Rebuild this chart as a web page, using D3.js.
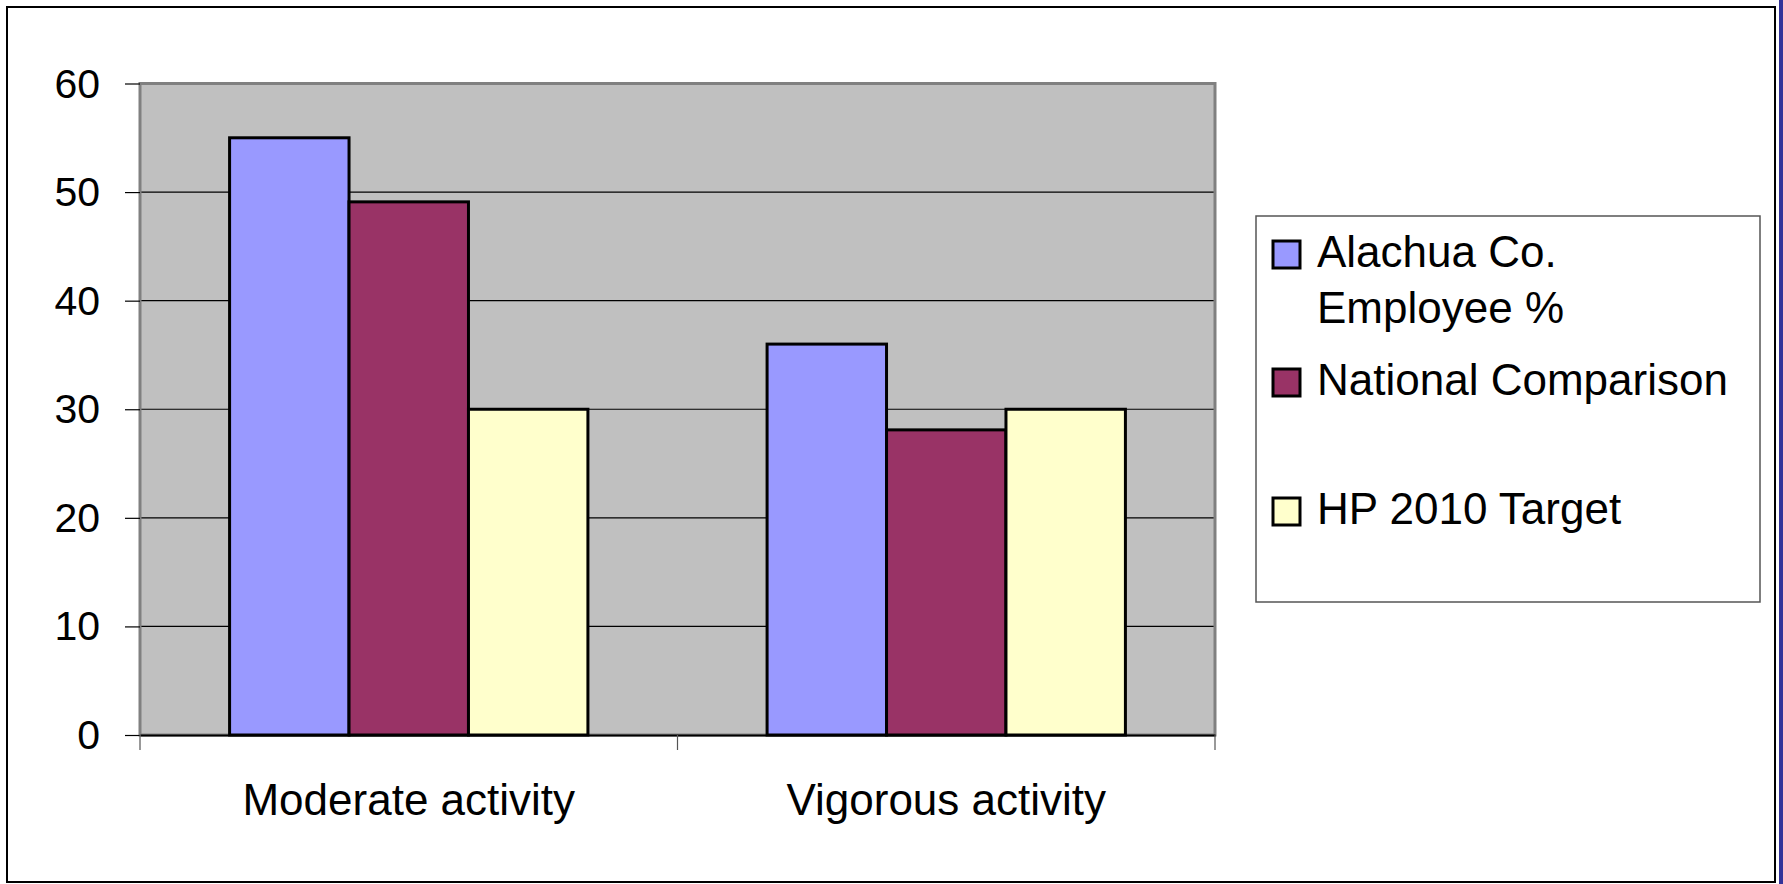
<!DOCTYPE html>
<html>
<head>
<meta charset="utf-8">
<script src="https://cdn.jsdelivr.net/npm/d3@7"></script>
<style>
  body { margin: 0; background: #fff; }
  text { font-family: "Liberation Sans", Arial, sans-serif; fill: #000; }
</style>
</head>
<body>
<script>
// data
var categories = ["Moderate activity", "Vigorous activity"];
var series = ["Alachua Co. Employee %", "National Comparison", "HP 2010 Target"];
var alachua = [55, 36];
var national = [49.1, 28.1];
var target = [30, 30];
var yTicks = [0, 10, 20, 30, 40, 50, 60];
var legendLines = [["Alachua Co.", "Employee %"], ["National Comparison"], ["HP 2010 Target"]];

var colors = ["#9999FF", "#993366", "#FFFFCC"];
var values = [alachua, national, target];

var W = 1783, H = 884;
var plot = { left: 140, right: 1215, top: 83.5, bottom: 735 };

var svg = d3.select("body").append("svg")
    .attr("width", W)
    .attr("height", H);

// outer chart border
svg.append("rect")
    .attr("x", 7).attr("y", 7)
    .attr("width", 1768).attr("height", 875)
    .attr("fill", "#fff")
    .attr("stroke", "#000")
    .attr("stroke-width", 2);
svg.append("rect")
    .attr("x", 1779).attr("y", 0)
    .attr("width", 4).attr("height", H)
    .attr("fill", "#333399");

var y = d3.scaleLinear()
    .domain([0, 60])
    .range([plot.bottom, plot.top]);

var x0 = d3.scaleBand()
    .domain(categories)
    .range([plot.left, plot.right])
    .paddingInner(1 / 3)
    .paddingOuter(1 / 6);

var x1 = d3.scaleBand()
    .domain(series)
    .range([0, x0.bandwidth()]);

// plot area background
svg.append("rect")
    .attr("x", plot.left).attr("y", plot.top)
    .attr("width", plot.right - plot.left)
    .attr("height", plot.bottom - plot.top)
    .attr("fill", "#C0C0C0");

// gridlines
svg.append("g")
    .selectAll("line")
    .data(yTicks.filter(function (d) { return d > 0 && d < 60; }))
    .enter().append("line")
    .attr("x1", plot.left).attr("x2", plot.right)
    .attr("y1", function (d) { return y(d); })
    .attr("y2", function (d) { return y(d); })
    .attr("stroke", "#000")
    .attr("stroke-width", 1.2);

// plot border
svg.append("rect")
    .attr("x", plot.left).attr("y", plot.top)
    .attr("width", plot.right - plot.left)
    .attr("height", plot.bottom - plot.top)
    .attr("fill", "none")
    .attr("stroke", "#808080")
    .attr("stroke-width", 3);

// bars
var groups = svg.append("g").selectAll("g")
    .data(categories)
    .enter().append("g")
    .attr("transform", function (d) { return "translate(" + x0(d) + ",0)"; });

groups.selectAll("rect")
    .data(function (d, i) {
        return series.map(function (s, j) { return { s: s, v: values[j][i], c: colors[j] }; });
    })
    .enter().append("rect")
    .attr("x", function (d) { return x1(d.s); })
    .attr("y", function (d) { return y(d.v); })
    .attr("width", x1.bandwidth())
    .attr("height", function (d) { return y(0) - y(d.v); })
    .attr("fill", function (d) { return d.c; })
    .attr("stroke", "#000")
    .attr("stroke-width", 3);

// y axis
var yAxis = svg.append("g")
    .attr("transform", "translate(" + plot.left + ",0)")
    .call(d3.axisLeft(y).tickValues(yTicks).tickSize(15).tickPadding(25));
yAxis.select(".domain").remove();
yAxis.selectAll("line").attr("stroke", "#000").attr("stroke-width", 1.2);
yAxis.selectAll("text")
    .style("font-size", "41px")
    .style("font-family", "'Liberation Sans', Arial, sans-serif")
    .attr("dy", "0.33em");

// x axis
var xAxis = svg.append("g")
    .attr("transform", "translate(0," + plot.bottom + ")")
    .call(d3.axisBottom(x0).tickSize(0).tickPadding(0));
xAxis.select(".domain")
    .attr("stroke", "#000").attr("stroke-width", 2);
xAxis.selectAll("text")
    .attr("y", 80).attr("dy", 0)
    .style("font-size", "44px")
    .style("font-family", "'Liberation Sans', Arial, sans-serif");

// category separator ticks
var edges = d3.range(categories.length + 1).map(function (i) {
    return plot.left + i * (plot.right - plot.left) / categories.length;
});
xAxis.selectAll(".sep")
    .data(edges)
    .enter().append("line")
    .attr("class", "sep")
    .attr("x1", function (d) { return d; })
    .attr("x2", function (d) { return d; })
    .attr("y1", 0).attr("y2", 15)
    .attr("stroke", "#555")
    .attr("stroke-width", 1.2);

// legend
var legend = svg.append("g");
legend.append("rect")
    .attr("x", 1256).attr("y", 216)
    .attr("width", 504).attr("height", 386)
    .attr("fill", "#fff")
    .attr("stroke", "#555")
    .attr("stroke-width", 1.5);

var entryTop = [241, 369, 498];
var items = legend.selectAll(".item")
    .data(series)
    .enter().append("g")
    .attr("class", "item")
    .attr("transform", function (d, i) { return "translate(1273," + entryTop[i] + ")"; });

items.append("rect")
    .attr("width", 27).attr("height", 27)
    .attr("fill", function (d, i) { return colors[i]; })
    .attr("stroke", "#000")
    .attr("stroke-width", 3);

items.append("text")
    .attr("x", 44)
    .style("font-size", "44px")
    .each(function (d, i) {
        var t = d3.select(this);
        legendLines[i].forEach(function (line, k) {
            t.append("tspan")
                .attr("x", 44)
                .attr("y", 26 + k * 56)
                .text(line);
        });
    });
</script>
</body>
</html>
